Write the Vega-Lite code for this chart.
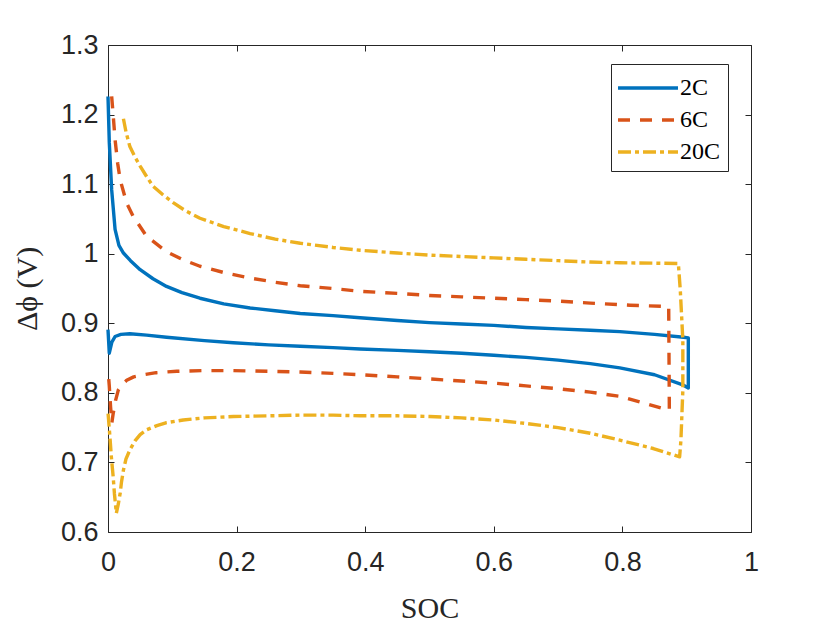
{
  "$schema": "https://vega.github.io/schema/vega-lite/v6.json",
  "autosize": {"type": "none"},
  "padding": {"left": 108, "top": 45, "right": 79, "bottom": 91},
  "width": 643,
  "height": 487,
  "background": "white",
  "config": {
    "view": {"stroke": "#262626", "strokeWidth": 1},
    "axis": {
      "grid": false,
      "domain": false,
      "tickColor": "#262626",
      "tickSize": -6,
      "tickWidth": 1,
      "labelFlush": false,
      "labelFont": "Liberation Sans",
      "labelFontSize": 27,
      "labelColor": "#262626",
      "titleFont": "Liberation Serif",
      "titleFontSize": 30,
      "titleFontWeight": "normal",
      "titleColor": "#262626"
    }
  },
  "data": {
    "values": [
      {"rate": "2C", "i": 1, "soc": 0, "dphi": 1.226},
      {"rate": "2C", "i": 2, "soc": 0.002, "dphi": 1.16},
      {"rate": "2C", "i": 3, "soc": 0.0057, "dphi": 1.092},
      {"rate": "2C", "i": 4, "soc": 0.011, "dphi": 1.035},
      {"rate": "2C", "i": 5, "soc": 0.017, "dphi": 1.012},
      {"rate": "2C", "i": 6, "soc": 0.024, "dphi": 1.001},
      {"rate": "2C", "i": 7, "soc": 0.035, "dphi": 0.99},
      {"rate": "2C", "i": 8, "soc": 0.05, "dphi": 0.977},
      {"rate": "2C", "i": 9, "soc": 0.07, "dphi": 0.964},
      {"rate": "2C", "i": 10, "soc": 0.091, "dphi": 0.953},
      {"rate": "2C", "i": 11, "soc": 0.115, "dphi": 0.944},
      {"rate": "2C", "i": 12, "soc": 0.143, "dphi": 0.936},
      {"rate": "2C", "i": 13, "soc": 0.18, "dphi": 0.928},
      {"rate": "2C", "i": 14, "soc": 0.221, "dphi": 0.922},
      {"rate": "2C", "i": 15, "soc": 0.26, "dphi": 0.918},
      {"rate": "2C", "i": 16, "soc": 0.299, "dphi": 0.914},
      {"rate": "2C", "i": 17, "soc": 0.35, "dphi": 0.911},
      {"rate": "2C", "i": 18, "soc": 0.392, "dphi": 0.908},
      {"rate": "2C", "i": 19, "soc": 0.45, "dphi": 0.904},
      {"rate": "2C", "i": 20, "soc": 0.5, "dphi": 0.901},
      {"rate": "2C", "i": 21, "soc": 0.55, "dphi": 0.899},
      {"rate": "2C", "i": 22, "soc": 0.6, "dphi": 0.897},
      {"rate": "2C", "i": 23, "soc": 0.65, "dphi": 0.894},
      {"rate": "2C", "i": 24, "soc": 0.7, "dphi": 0.892},
      {"rate": "2C", "i": 25, "soc": 0.75, "dphi": 0.89},
      {"rate": "2C", "i": 26, "soc": 0.796, "dphi": 0.888},
      {"rate": "2C", "i": 27, "soc": 0.85, "dphi": 0.884},
      {"rate": "2C", "i": 28, "soc": 0.895, "dphi": 0.88},
      {"rate": "2C", "i": 29, "soc": 0.9025, "dphi": 0.879},
      {"rate": "2C", "i": 30, "soc": 0.9025, "dphi": 0.807},
      {"rate": "2C", "i": 31, "soc": 0.895, "dphi": 0.811},
      {"rate": "2C", "i": 32, "soc": 0.85, "dphi": 0.826},
      {"rate": "2C", "i": 33, "soc": 0.796, "dphi": 0.836},
      {"rate": "2C", "i": 34, "soc": 0.75, "dphi": 0.842},
      {"rate": "2C", "i": 35, "soc": 0.7, "dphi": 0.847},
      {"rate": "2C", "i": 36, "soc": 0.65, "dphi": 0.851},
      {"rate": "2C", "i": 37, "soc": 0.6, "dphi": 0.854},
      {"rate": "2C", "i": 38, "soc": 0.55, "dphi": 0.857},
      {"rate": "2C", "i": 39, "soc": 0.5, "dphi": 0.859},
      {"rate": "2C", "i": 40, "soc": 0.45, "dphi": 0.861},
      {"rate": "2C", "i": 41, "soc": 0.392, "dphi": 0.863},
      {"rate": "2C", "i": 42, "soc": 0.35, "dphi": 0.865},
      {"rate": "2C", "i": 43, "soc": 0.299, "dphi": 0.867},
      {"rate": "2C", "i": 44, "soc": 0.25, "dphi": 0.869},
      {"rate": "2C", "i": 45, "soc": 0.195, "dphi": 0.872},
      {"rate": "2C", "i": 46, "soc": 0.15, "dphi": 0.875},
      {"rate": "2C", "i": 47, "soc": 0.091, "dphi": 0.88},
      {"rate": "2C", "i": 48, "soc": 0.06, "dphi": 0.883},
      {"rate": "2C", "i": 49, "soc": 0.034, "dphi": 0.885},
      {"rate": "2C", "i": 50, "soc": 0.02, "dphi": 0.884},
      {"rate": "2C", "i": 51, "soc": 0.011, "dphi": 0.881},
      {"rate": "2C", "i": 52, "soc": 0.006, "dphi": 0.873},
      {"rate": "2C", "i": 53, "soc": 0.002, "dphi": 0.857},
      {"rate": "2C", "i": 54, "soc": 0, "dphi": 0.891},

      {"rate": "6C", "i": 1, "soc": 0.0057, "dphi": 1.226},
      {"rate": "6C", "i": 2, "soc": 0.008, "dphi": 1.2},
      {"rate": "6C", "i": 3, "soc": 0.011, "dphi": 1.164},
      {"rate": "6C", "i": 4, "soc": 0.015, "dphi": 1.13},
      {"rate": "6C", "i": 5, "soc": 0.019, "dphi": 1.106},
      {"rate": "6C", "i": 6, "soc": 0.029, "dphi": 1.073},
      {"rate": "6C", "i": 7, "soc": 0.039, "dphi": 1.054},
      {"rate": "6C", "i": 8, "soc": 0.06, "dphi": 1.025},
      {"rate": "6C", "i": 9, "soc": 0.091, "dphi": 1.003},
      {"rate": "6C", "i": 10, "soc": 0.115, "dphi": 0.992},
      {"rate": "6C", "i": 11, "soc": 0.143, "dphi": 0.982},
      {"rate": "6C", "i": 12, "soc": 0.18, "dphi": 0.973},
      {"rate": "6C", "i": 13, "soc": 0.221, "dphi": 0.965},
      {"rate": "6C", "i": 14, "soc": 0.26, "dphi": 0.959},
      {"rate": "6C", "i": 15, "soc": 0.299, "dphi": 0.954},
      {"rate": "6C", "i": 16, "soc": 0.35, "dphi": 0.95},
      {"rate": "6C", "i": 17, "soc": 0.392, "dphi": 0.946},
      {"rate": "6C", "i": 18, "soc": 0.45, "dphi": 0.943},
      {"rate": "6C", "i": 19, "soc": 0.5, "dphi": 0.94},
      {"rate": "6C", "i": 20, "soc": 0.55, "dphi": 0.938},
      {"rate": "6C", "i": 21, "soc": 0.6, "dphi": 0.936},
      {"rate": "6C", "i": 22, "soc": 0.65, "dphi": 0.934},
      {"rate": "6C", "i": 23, "soc": 0.7, "dphi": 0.932},
      {"rate": "6C", "i": 24, "soc": 0.75, "dphi": 0.929},
      {"rate": "6C", "i": 25, "soc": 0.812, "dphi": 0.926},
      {"rate": "6C", "i": 26, "soc": 0.872, "dphi": 0.924},
      {"rate": "6C", "i": 27, "soc": 0.873, "dphi": 0.776},
      {"rate": "6C", "i": 28, "soc": 0.872, "dphi": 0.775},
      {"rate": "6C", "i": 29, "soc": 0.796, "dphi": 0.795},
      {"rate": "6C", "i": 30, "soc": 0.75, "dphi": 0.801},
      {"rate": "6C", "i": 31, "soc": 0.7, "dphi": 0.806},
      {"rate": "6C", "i": 32, "soc": 0.65, "dphi": 0.81},
      {"rate": "6C", "i": 33, "soc": 0.6, "dphi": 0.814},
      {"rate": "6C", "i": 34, "soc": 0.55, "dphi": 0.817},
      {"rate": "6C", "i": 35, "soc": 0.5, "dphi": 0.82},
      {"rate": "6C", "i": 36, "soc": 0.45, "dphi": 0.823},
      {"rate": "6C", "i": 37, "soc": 0.392, "dphi": 0.826},
      {"rate": "6C", "i": 38, "soc": 0.35, "dphi": 0.828},
      {"rate": "6C", "i": 39, "soc": 0.299, "dphi": 0.83},
      {"rate": "6C", "i": 40, "soc": 0.25, "dphi": 0.831},
      {"rate": "6C", "i": 41, "soc": 0.195, "dphi": 0.832},
      {"rate": "6C", "i": 42, "soc": 0.15, "dphi": 0.832},
      {"rate": "6C", "i": 43, "soc": 0.107, "dphi": 0.831},
      {"rate": "6C", "i": 44, "soc": 0.075, "dphi": 0.829},
      {"rate": "6C", "i": 45, "soc": 0.055, "dphi": 0.826},
      {"rate": "6C", "i": 46, "soc": 0.04, "dphi": 0.823},
      {"rate": "6C", "i": 47, "soc": 0.029, "dphi": 0.818},
      {"rate": "6C", "i": 48, "soc": 0.022, "dphi": 0.812},
      {"rate": "6C", "i": 49, "soc": 0.016, "dphi": 0.804},
      {"rate": "6C", "i": 50, "soc": 0.012, "dphi": 0.79},
      {"rate": "6C", "i": 51, "soc": 0.008, "dphi": 0.77},
      {"rate": "6C", "i": 52, "soc": 0.006, "dphi": 0.757},
      {"rate": "6C", "i": 53, "soc": 0.004, "dphi": 0.78},
      {"rate": "6C", "i": 54, "soc": 0.002, "dphi": 0.81},
      {"rate": "6C", "i": 55, "soc": 0, "dphi": 0.833},

      {"rate": "20C", "i": 1, "soc": 0.024, "dphi": 1.194},
      {"rate": "20C", "i": 2, "soc": 0.028, "dphi": 1.175},
      {"rate": "20C", "i": 3, "soc": 0.034, "dphi": 1.154},
      {"rate": "20C", "i": 4, "soc": 0.042, "dphi": 1.139},
      {"rate": "20C", "i": 5, "soc": 0.05, "dphi": 1.126},
      {"rate": "20C", "i": 6, "soc": 0.06, "dphi": 1.111},
      {"rate": "20C", "i": 7, "soc": 0.07, "dphi": 1.097},
      {"rate": "20C", "i": 8, "soc": 0.085, "dphi": 1.085},
      {"rate": "20C", "i": 9, "soc": 0.102, "dphi": 1.073},
      {"rate": "20C", "i": 10, "soc": 0.12, "dphi": 1.062},
      {"rate": "20C", "i": 11, "soc": 0.143, "dphi": 1.051},
      {"rate": "20C", "i": 12, "soc": 0.18, "dphi": 1.039},
      {"rate": "20C", "i": 13, "soc": 0.221, "dphi": 1.029},
      {"rate": "20C", "i": 14, "soc": 0.26, "dphi": 1.021},
      {"rate": "20C", "i": 15, "soc": 0.299, "dphi": 1.015},
      {"rate": "20C", "i": 16, "soc": 0.35, "dphi": 1.009},
      {"rate": "20C", "i": 17, "soc": 0.392, "dphi": 1.005},
      {"rate": "20C", "i": 18, "soc": 0.45, "dphi": 1.001},
      {"rate": "20C", "i": 19, "soc": 0.5, "dphi": 0.998},
      {"rate": "20C", "i": 20, "soc": 0.55, "dphi": 0.996},
      {"rate": "20C", "i": 21, "soc": 0.6, "dphi": 0.994},
      {"rate": "20C", "i": 22, "soc": 0.65, "dphi": 0.992},
      {"rate": "20C", "i": 23, "soc": 0.7, "dphi": 0.99},
      {"rate": "20C", "i": 24, "soc": 0.75, "dphi": 0.988},
      {"rate": "20C", "i": 25, "soc": 0.796, "dphi": 0.987},
      {"rate": "20C", "i": 26, "soc": 0.887, "dphi": 0.986},
      {"rate": "20C", "i": 27, "soc": 0.89, "dphi": 0.948},
      {"rate": "20C", "i": 28, "soc": 0.894, "dphi": 0.876},
      {"rate": "20C", "i": 29, "soc": 0.894, "dphi": 0.804},
      {"rate": "20C", "i": 30, "soc": 0.891, "dphi": 0.732},
      {"rate": "20C", "i": 31, "soc": 0.889, "dphi": 0.708},
      {"rate": "20C", "i": 32, "soc": 0.848, "dphi": 0.72},
      {"rate": "20C", "i": 33, "soc": 0.796, "dphi": 0.732},
      {"rate": "20C", "i": 34, "soc": 0.75, "dphi": 0.742},
      {"rate": "20C", "i": 35, "soc": 0.7, "dphi": 0.75},
      {"rate": "20C", "i": 36, "soc": 0.65, "dphi": 0.756},
      {"rate": "20C", "i": 37, "soc": 0.6, "dphi": 0.761},
      {"rate": "20C", "i": 38, "soc": 0.55, "dphi": 0.764},
      {"rate": "20C", "i": 39, "soc": 0.5, "dphi": 0.766},
      {"rate": "20C", "i": 40, "soc": 0.45, "dphi": 0.767},
      {"rate": "20C", "i": 41, "soc": 0.392, "dphi": 0.767},
      {"rate": "20C", "i": 42, "soc": 0.35, "dphi": 0.768},
      {"rate": "20C", "i": 43, "soc": 0.299, "dphi": 0.768},
      {"rate": "20C", "i": 44, "soc": 0.25, "dphi": 0.767},
      {"rate": "20C", "i": 45, "soc": 0.195, "dphi": 0.766},
      {"rate": "20C", "i": 46, "soc": 0.15, "dphi": 0.764},
      {"rate": "20C", "i": 47, "soc": 0.117, "dphi": 0.761},
      {"rate": "20C", "i": 48, "soc": 0.09, "dphi": 0.757},
      {"rate": "20C", "i": 49, "soc": 0.076, "dphi": 0.753},
      {"rate": "20C", "i": 50, "soc": 0.06, "dphi": 0.747},
      {"rate": "20C", "i": 51, "soc": 0.05, "dphi": 0.74},
      {"rate": "20C", "i": 52, "soc": 0.042, "dphi": 0.731},
      {"rate": "20C", "i": 53, "soc": 0.034, "dphi": 0.718},
      {"rate": "20C", "i": 54, "soc": 0.028, "dphi": 0.705},
      {"rate": "20C", "i": 55, "soc": 0.024, "dphi": 0.689},
      {"rate": "20C", "i": 56, "soc": 0.021, "dphi": 0.672},
      {"rate": "20C", "i": 57, "soc": 0.019, "dphi": 0.656},
      {"rate": "20C", "i": 58, "soc": 0.016, "dphi": 0.64},
      {"rate": "20C", "i": 59, "soc": 0.013, "dphi": 0.627},
      {"rate": "20C", "i": 60, "soc": 0.01, "dphi": 0.655},
      {"rate": "20C", "i": 61, "soc": 0.008, "dphi": 0.68},
      {"rate": "20C", "i": 62, "soc": 0.005, "dphi": 0.71},
      {"rate": "20C", "i": 63, "soc": 0.003, "dphi": 0.737},
      {"rate": "20C", "i": 64, "soc": 0, "dphi": 0.772}
    ]
  },
  "resolve": {"axis": {"x": "independent", "y": "independent"}},
  "layer": [
    {
      "layer": [
        {
          "transform": [{"filter": "datum.rate === '2C'"}],
          "mark": {"type": "line", "strokeWidth": 3.4, "strokeCap": "butt", "strokeJoin": "round"}
        },
        {
          "transform": [{"filter": "datum.rate === '6C'"}],
          "mark": {"type": "line", "strokeWidth": 3.4, "strokeCap": "butt", "strokeJoin": "round", "strokeDash": [12, 10]}
        },
        {
          "transform": [{"filter": "datum.rate === '20C'"}],
          "mark": {"type": "line", "strokeWidth": 3.4, "strokeCap": "butt", "strokeJoin": "round", "strokeDash": [13, 4, 4, 4]}
        }
      ],
      "encoding": {
        "x": {
          "field": "soc", "type": "quantitative", "title": "SOC",
          "scale": {"domain": [0, 1], "nice": false, "zero": false},
          "axis": {"values": [0, 0.2, 0.4, 0.6, 0.8, 1], "labelPadding": 23, "titlePadding": 18, "format": "~g"}
        },
        "y": {
          "field": "dphi", "type": "quantitative", "title": "Δϕ (V)",
          "scale": {"domain": [0.6, 1.3], "nice": false, "zero": false},
          "axis": {"values": [0.6, 0.7, 0.8, 0.9, 1, 1.1, 1.2, 1.3], "labelPadding": 16, "titlePadding": 18, "format": "~g"}
        },
        "order": {"field": "i", "type": "quantitative"},
        "color": {
          "field": "rate", "type": "nominal",
          "scale": {"domain": ["2C", "6C", "20C"], "range": ["#0072BD", "#D95319", "#EDB120"]},
          "legend": {
            "title": null,
            "orient": "none",
            "legendX": 503,
            "legendY": 19,
            "symbolType": "M-2,0H2",
            "symbolSize": 900,
            "symbolOffset": 13,
            "symbolStrokeWidth": 3.4,
            "labelFont": "Liberation Serif",
            "labelFontSize": 24,
            "labelColor": "#000000",
            "labelOffset": 15,
            "rowPadding": 3,
            "padding": 7,
            "fillColor": "white",
            "strokeColor": "#262626",
            "encode": {
              "symbols": {
                "update": {
                  "strokeDash": {"signal": "datum.label === '6C' ? [12, 10] : datum.label === '20C' ? [13, 4, 4, 4] : [1, 0]"}
                }
              }
            }
          }
        }
      }
    },
    {
      "mark": {"type": "point", "opacity": 0},
      "encoding": {
        "x": {
          "field": "soc", "type": "quantitative",
          "scale": {"domain": [0, 1], "nice": false, "zero": false},
          "axis": {"orient": "top", "values": [0, 0.2, 0.4, 0.6, 0.8, 1], "labels": false, "title": null}
        },
        "y": {
          "field": "dphi", "type": "quantitative",
          "scale": {"domain": [0.6, 1.3], "nice": false, "zero": false},
          "axis": {"orient": "right", "values": [0.6, 0.7, 0.8, 0.9, 1, 1.1, 1.2, 1.3], "labels": false, "title": null}
        }
      }
    }
  ]
}
